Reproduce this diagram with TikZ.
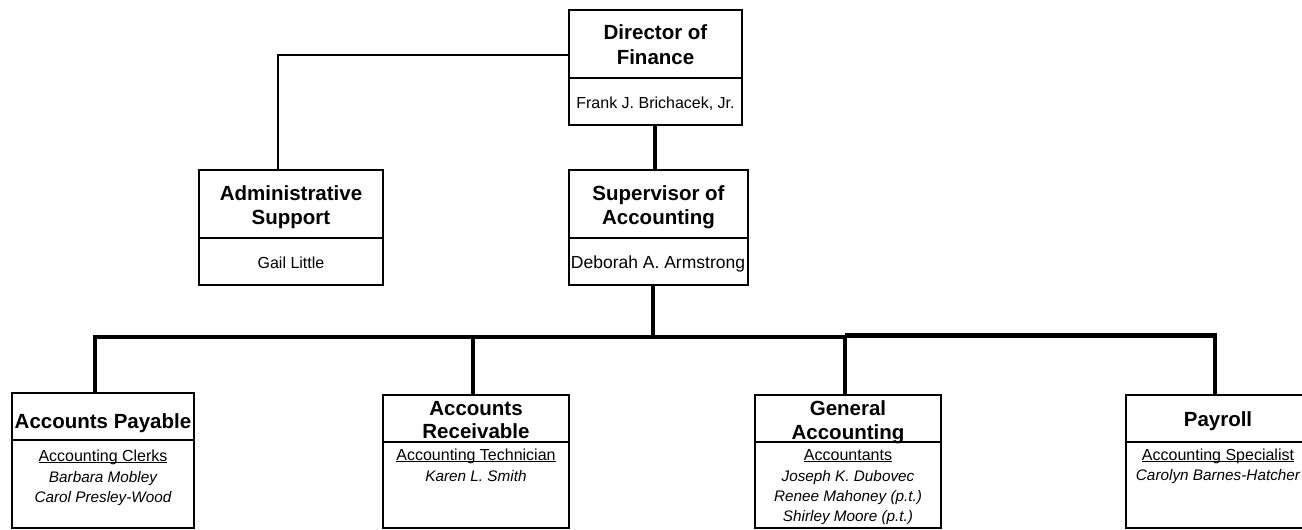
\documentclass[tikz,border=0pt]{standalone}
\usepackage{fontspec}
\setmainfont{Liberation Sans}
\usetikzlibrary{calc}
\newcommand\myul[1]{\setbox0\hbox{#1}\rlap{\rule[-1.8pt]{\wd0}{1.1pt}}\box0}
\begin{document}
\begin{tikzpicture}[x=1pt,y=-1pt,
 box/.style={draw, line width=2.9pt, rectangle, inner sep=0pt, outer sep=0pt, anchor=north west},
 divider/.style={line width=2.4pt},
 conn/.style={line width=4.2pt, line join=miter},
 thinconn/.style={line width=2.6pt, line join=miter},
 ttl/.style={font=\fontsize{20.5}{24}\selectfont\bfseries, anchor=base, inner sep=0pt},
 sub/.style={font=\fontsize{16}{19}\selectfont, anchor=base, inner sep=0pt},
 nm/.style={font=\fontsize{15.3}{18}\selectfont\itshape, anchor=base, inner sep=0pt}]
\useasboundingbox (0,0) rectangle (1302,530);

% connector points
\coordinate (dirL) at (569,55);
\coordinate (admT) at (278,170);
\coordinate (dirB) at (655,125);
\coordinate (supT) at (655,170);
\coordinate (supB) at (653,285);
\coordinate (bus) at (653,337);
\coordinate (apT) at (95,393);
\coordinate (arT) at (473,395);
\coordinate (gaT) at (845,395);
\coordinate (payT) at (1215,395);

% connectors
\draw[thinconn] (dirL) -| (admT);
\draw[conn] (dirB) -- (supT);
\draw[conn] (supB) -- (bus);
\draw[conn] (apT) -- (apT |- bus) -- (gaT |- bus);
\draw[conn] ($(gaT |- bus)+(0,-1.5)$) -- ($(payT |- bus)+(0,-1.5)$) -- (payT);
\draw[conn] (arT) -- (arT |- bus);
\draw[conn] (gaT) -- (gaT |- bus);

% boxes
\node[box, fill=white, minimum width=173pt, minimum height=115pt] (dir) at (569,10) {};
\node[box, fill=white, minimum width=184pt, minimum height=115pt] (adm) at (199,170) {};
\node[box, fill=white, minimum width=179pt, minimum height=115pt] (sup) at (569,170) {};
\node[box, fill=white, minimum width=182pt, minimum height=135pt] (ap) at (12,393) {};
\node[box, fill=white, minimum width=186pt, minimum height=133pt] (ar) at (383,395) {};
\node[box, fill=white, minimum width=186pt, minimum height=133pt] (ga) at (755,395) {};
\node[box, fill=white, minimum width=185pt, minimum height=133pt] (pay) at (1126,395) {};

% dividers
\foreach \b in {dir,adm,sup}{
  \draw[divider] ($(\b.north west)+(0,68)$) -- ($(\b.north east)+(0,68)$);
}
\foreach \b in {ap,ar,ga,pay}{
  \draw[divider] ($(\b.north west)+(0,47)$) -- ($(\b.north east)+(0,47)$);
}

% texts
\node[ttl] (dirT1) at (655.5,39.5) {Director of};
\node[ttl] (dirT2) at (655.5,64) {Finance};
\node[sub] (dirN) at (655.5,108) {Frank J. Brichacek, Jr.};

\node[ttl] (admT1) at (291,200) {Administrative};
\node[ttl] (admT2) at (291,224) {Support};
\node[sub] (admN) at (291,268) {Gail Little};

\node[ttl] (supT1) at (658.5,200.5) {Supervisor of};
\node[ttl] (supT2) at (658.5,224) {Accounting};
\node[sub, font=\fontsize{17.5}{20}\selectfont] (supN) at (658,268.5) {Deborah A. Armstrong};

\node[ttl] (apT1) at (103,428) {Accounts Payable};
\node[sub] (apR) at (103,461.5) {\myul{Accounting Clerks}};
\node[nm] (apN1) at (103,482) {Barbara Mobley};
\node[nm] (apN2) at (103,502) {Carol Presley-Wood};

\node[ttl] (arT1) at (476,415) {Accounts};
\node[ttl] (arT2) at (476,438.5) {Receivable};
\node[sub] (arR) at (476,460) {\myul{Accounting Technician}};
\node[nm] (arN1) at (476,481.5) {Karen L. Smith};

\node[ttl] (gaT1) at (848,415) {General};
\node[ttl] (gaT2) at (848,439) {Accounting};
\node[sub] (gaR) at (848,460) {\myul{Accountants}};
\node[nm] (gaN1) at (848,481.5) {Joseph K. Dubovec};
\node[nm] (gaN2) at (848,501.5) {Renee Mahoney (p.t.)};
\node[nm] (gaN3) at (848,521.5) {Shirley Moore (p.t.)};

\node[ttl] (payT1) at (1218,426) {Payroll};
\node[sub] (payR) at (1218,460) {\myul{Accounting Specialist}};
\node[nm] (payN1) at (1218,480) {Carolyn Barnes-Hatcher};
\end{tikzpicture}
\end{document}
